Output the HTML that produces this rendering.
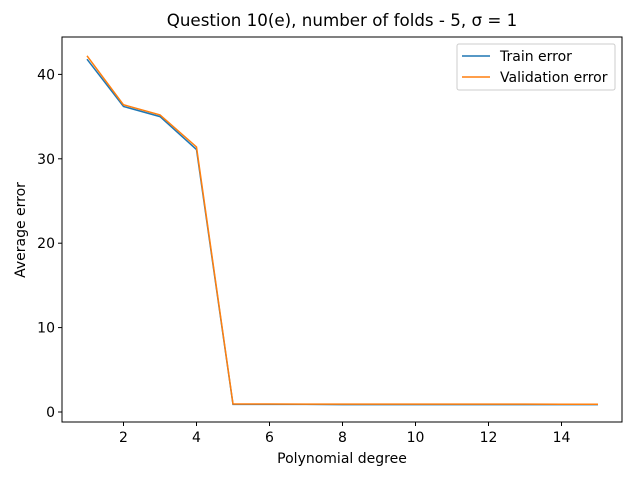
<!DOCTYPE html>
<html><head><meta charset="utf-8"><style>
body{margin:0;background:#fff}
svg text{font-family:"DejaVu Sans","Liberation Sans",sans-serif;fill:#000}
</style></head><body>
<svg id="c" width="640" height="480" xmlns="http://www.w3.org/2000/svg"></svg>
<script>
const degrees=[1,2,3,4,5,6,7,8,9,10,11,12,13,14,15];
const trainErr=[41.8,36.2,35.0,31.1,0.9,0.9,0.9,0.88,0.88,0.88,0.88,0.88,0.88,0.87,0.87];
const valErr=[42.2,36.4,35.2,31.4,0.95,0.95,0.94,0.93,0.93,0.93,0.94,0.93,0.93,0.92,0.92];
const xTicks=[2,4,6,8,10,12,14];
const yTicks=[0,10,20,30,40];
const L=62,R=622,T=37,B=422;
const X=v=>123.5+(v-2)*36.5;
const Y=v=>412-v*8.44;
const s=document.getElementById('c');const ns='http://www.w3.org/2000/svg';
function mk(t,a,p){const e=document.createElementNS(ns,t);for(const k in a)e.setAttribute(k,a[k]);(p||s).appendChild(e);return e;}
let r=mk('rect',{x:L,y:T,width:R-L,height:B-T,fill:'none',stroke:'#000','stroke-width':1});


xTicks.forEach(v=>{mk('line',{x1:X(v),x2:X(v),y1:B,y2:B+4,stroke:'#000'});
let t=mk('text',{x:X(v),y:B+20,'text-anchor':'middle','font-size':14});t.textContent=v;

});
yTicks.forEach(v=>{mk('line',{x1:L-4,x2:L,y1:Y(v),y2:Y(v),stroke:'#000'});
let t=mk('text',{x:L-7,y:Y(v)+5,'text-anchor':'end','font-size':14});t.textContent=v;

});
function line(d,c,n){let p=mk('polyline',{points:d.map((v,i)=>X(degrees[i])+','+Y(v)).join(' '),fill:'none',stroke:c,'stroke-width':1.5});

}
line(trainErr,'#1f77b4','train-error-line');
line(valErr,'#ff7f0e','validation-error-line');
let tt=mk('text',{x:342,y:26,'text-anchor':'middle','font-size':16.7});tt.textContent='Question 10(e), number of folds - 5, σ = 1';


let xl=mk('text',{x:342,y:463,'text-anchor':'middle','font-size':14});xl.textContent='Polynomial degree';


let yl=mk('text',{x:25,y:230,'text-anchor':'middle','font-size':14,transform:'rotate(-90 25 230)'});yl.textContent='Average error';


let g=mk('g',{});


mk('rect',{x:457,y:44,width:158,height:46,rx:2,fill:'#fff',stroke:'#ccc'},g);
[['Train error','#1f77b4',56],['Validation error','#ff7f0e',77]].forEach(([n,c,y])=>{
mk('line',{x1:462,x2:490,y1:y,y2:y,stroke:c,'stroke-width':1.5},g);
let t=mk('text',{x:500,y:y+5,'font-size':14},g);t.textContent=n;

});
</script></body></html>
